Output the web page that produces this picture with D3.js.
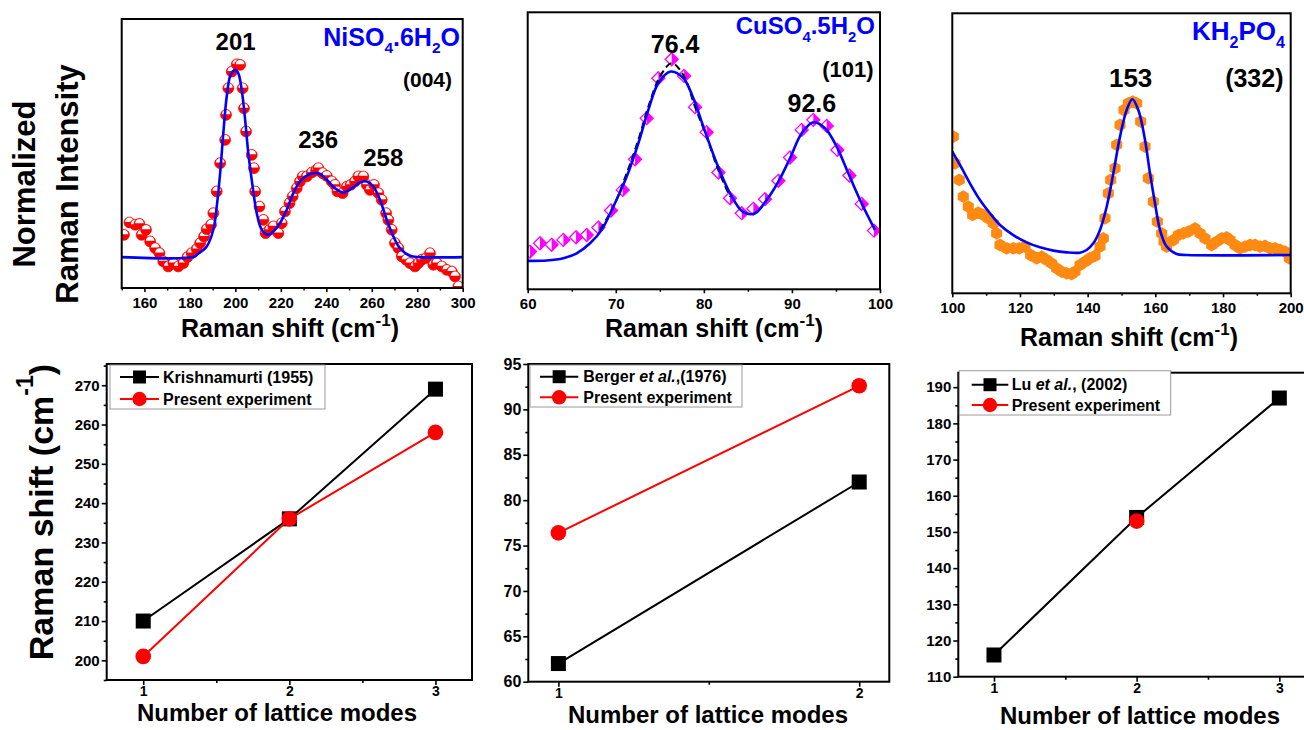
<!DOCTYPE html>
<html>
<head>
<meta charset="utf-8">
<script src="https://cdn.jsdelivr.net/npm/d3@7"></script>
<style>
  body { margin: 0; background: #fff; }
  svg { display: block; font-family: "Liberation Sans", Arial, sans-serif; font-weight: bold; }
</style>
</head>
<body>
<svg id="fig" width="1304" height="730"></svg>
<script>
// ---------------- Spectra: [Raman shift (cm-1), normalized intensity] ----------------
const niso4Points = [
  [151.0,0.119],[153.4,0.185],[155.9,0.173],[157.8,0.178],[158.8,0.119],[160.7,0.146],[162.5,0.084],
  [164.7,0.048],[166.6,0.021],[168.3,-0.023],[170.5,-0.050],[172.7,-0.032],[174.9,-0.050],[177.1,-0.032],
  [178.9,0.0],[180.8,0.021],[183.0,0.043],[184.5,0.075],[186.2,0.110],[187.4,0.149],[189.3,0.173],
  [190.3,0.235],[191.8,0.351],[193.3,0.502],[195.5,0.626],[195.9,0.760],[196.9,0.902],[198.4,0.991],
  [200.6,1.030],[202.1,1.027],[203.2,0.902],[203.8,0.795],[204.7,0.671],[207.2,0.546],[208.2,0.475],
  [208.7,0.351],[210.6,0.270],[212.3,0.199],[213.3,0.128],[215.0,0.146],[216.7,0.164],[218.9,0.128],
  [220.4,0.181],[221.8,0.244],[223.8,0.288],[225.2,0.324],[227.0,0.368],[228.4,0.404],[229.6,0.431],
  [231.4,0.431],[233.6,0.452],[235.5,0.463],[236.5,0.475],[238.4,0.448],[240.2,0.434],[242.4,0.404],
  [243.8,0.386],[244.9,0.351],[247.2,0.342],[249.0,0.377],[250.7,0.386],[252.6,0.404],[254.1,0.431],
  [256.3,0.431],[257.8,0.386],[259.2,0.359],[261.0,0.386],[262.9,0.342],[264.4,0.306],[266.3,0.235],
  [267.3,0.199],[268.8,0.146],[270.2,0.075],[271.7,0.048],[273.2,0.004],[275.1,-0.014],[276.8,-0.032],
  [279.0,-0.050],[280.5,-0.032],[282.0,-0.014],[283.9,-0.005],[285.6,0.021],[287.1,-0.041],[288.6,-0.032],
  [290.8,-0.050],[293.0,-0.068],[295.2,-0.077],[296.6,-0.103],[298.1,-0.157]
];
const niso4Fit = [
  [150,0],[181.5,0],[183.0,0.012],[187.4,0.057],[190.3,0.146],[191.8,0.270],[193.3,0.448],[194.7,0.662],
  [196.2,0.858],[197.9,0.973],[199.9,1.0],[201.3,0.982],[202.8,0.893],[204.3,0.733],[205.7,0.555],
  [207.6,0.377],[209.4,0.235],[211.6,0.146],[214.5,0.119],[216.7,0.137],[219.6,0.181],[222.6,0.253],
  [225.5,0.342],[228.4,0.404],[232.1,0.440],[236.5,0.448],[240.2,0.413],[243.8,0.368],[247.5,0.345],
  [251.2,0.368],[254.8,0.399],[257.8,0.404],[260.7,0.377],[263.6,0.306],[266.6,0.199],[269.5,0.110],
  [272.4,0.048],[276.8,0.007],[281.2,0],[300,0]
];

const cuso4Points = [
  [60.26,0.049],[61.40,0.093],[62.72,0.085],[64.05,0.111],[65.49,0.125],[66.70,0.137],[68.02,0.176],
  [69.46,0.266],[70.79,0.375],[72.19,0.537],[73.51,0.754],[74.83,0.965],[76.35,1.065],[77.75,0.977],
  [79.00,0.812],[80.32,0.680],[81.65,0.467],[82.97,0.331],[84.30,0.252],[85.62,0.275],[86.94,0.326],
  [88.46,0.423],[89.78,0.546],[91.11,0.692],[92.43,0.745],[93.95,0.713],[95.16,0.586],[96.52,0.451],
  [97.92,0.301],[99.32,0.160]
];
const cuso4Fit = [
  [60.0,0],[62.16,0.002],[64.05,0.014],[65.56,0.040],[67.08,0.093],[68.40,0.164],[69.73,0.287],
  [71.24,0.445],[72.56,0.621],[73.70,0.798],[74.83,0.938],[76.23,1.0],[77.67,0.965],[78.81,0.859],
  [79.94,0.710],[81.46,0.516],[82.97,0.357],[84.48,0.257],[85.81,0.252],[87.13,0.322],[88.46,0.419],
  [89.78,0.542],[91.11,0.674],[92.43,0.732],[93.76,0.701],[95.08,0.604],[96.40,0.463],[97.73,0.322],
  [99.43,0.164]
];
const cuso4Envelope = [
  [68.21,0.164],[69.73,0.287],[71.24,0.463],[72.56,0.639],[73.70,0.815],[75.02,0.974],[76.35,1.044],
  [77.67,0.982],[79.00,0.813],[80.32,0.655],[81.65,0.479],[82.97,0.338]
];

const kh2po4Points = [
  [100.30,0.760],[100.79,0.589],[102.07,0.482],[103.25,0.375],[104.73,0.310],[106.01,0.257],[107.68,0.272],
  [109.16,0.257],[110.64,0.236],[112.12,0.203],[113.10,0.139],[114.09,0.064],[116.06,0.043],[118.03,0.043],
  [119.80,0.043],[121.48,0.054],[123.15,0.0],[124.93,-0.021],[126.40,-0.011],[127.88,-0.032],[129.36,-0.054],
  [130.84,-0.086],[132.32,-0.107],[133.79,-0.118],[135.27,-0.122],[136.26,-0.107],[137.73,-0.064],
  [139.21,-0.043],[140.69,-0.021],[142.17,-0.006],[143.65,0.054],[144.63,0.107],[145.12,0.236],
  [146.11,0.396],[146.80,0.482],[148.08,0.557],[148.57,0.707],[149.56,0.835],[150.74,0.931],[152.02,0.974],
  [153.30,0.985],[154.48,0.974],[155.67,0.857],[156.95,0.696],[157.93,0.493],[159.41,0.343],[160.59,0.214],
  [161.87,0.139],[162.56,0.086],[163.35,0.054],[165.32,0.096],[166.80,0.128],[168.28,0.139],[169.75,0.150],
  [171.72,0.171],[173.20,0.139],[174.68,0.107],[176.65,0.064],[178.13,0.086],[179.61,0.107],[181.08,0.113],
  [182.07,0.096],[183.55,0.064],[185.02,0.043],[186.50,0.054],[187.98,0.064],[189.46,0.064],[190.94,0.054],
  [192.41,0.058],[193.89,0.043],[195.37,0.043],[196.85,0.032],[198.33,0.021],[199.61,-0.021]
];
const kh2po4Fit = [
  [100,0.664],[102.27,0.578],[105.22,0.460],[108.18,0.353],[111.13,0.268],[114.09,0.193],[118.03,0.128],
  [121.97,0.081],[125.91,0.049],[129.85,0.028],[133.79,0.017],[137.73,0.015],[139.70,0.032],[141.67,0.075],
  [143.65,0.161],[145.62,0.310],[147.59,0.525],[149.56,0.760],[151.53,0.931],[153.20,1.0],[154.98,0.931],
  [156.95,0.739],[158.42,0.525],[159.90,0.332],[161.38,0.161],[163.35,0.054],[166.31,0.006],[169.26,0],[200,0]
];

const niso4Peaks = [201, 236, 258];
const cuso4Peaks = [76.4, 92.6];
const kh2po4Peaks = [153];

const niso4Ticks = [160, 180, 200, 220, 240, 260, 280, 300];
const niso4Minor = [150, 170, 190, 210, 230, 250, 270, 290];
const cuso4Ticks = [60, 70, 80, 90, 100];
const cuso4Minor = [65, 75, 85, 95];
const kh2po4Ticks = [100, 120, 140, 160, 180, 200];
const kh2po4Minor = [110, 130, 150, 170, 190];

// ---------------- Lattice modes: literature vs present experiment ----------------
const modesThree = [1, 2, 3];
const modesTwo = [1, 2];
const krishnamurti1955 = [210, 236, 269];
const niso4Present = [201, 236, 258];
const berger1976 = [62, 82];
const cuso4Present = [76.4, 92.6];
const lu2002 = [116, 154, 187];
const kh2po4PresentModes = [2];
const kh2po4Present = [153];

const ni2Ticks = [200, 210, 220, 230, 240, 250, 260, 270];
const ni2Minor = [195, 205, 215, 225, 235, 245, 255, 265, 275];
const cu2Ticks = [60, 65, 70, 75, 80, 85, 90, 95];
const cu2Minor = [62.5, 67.5, 72.5, 77.5, 82.5, 87.5, 92.5];
const kh2Ticks = [110, 120, 130, 140, 150, 160, 170, 180, 190];
const kh2Minor = [115, 125, 135, 145, 155, 165, 175, 185];

// ---------------- drawing helpers ----------------
const svg = d3.select("#fig");
const BLUE = "#0000ff", RED = "#ff0000", MAGENTA = "#ff00ff", ORANGE = "#ff8a12";

function rich(sel, parts, size, supShift = 0.6) {
  let shift = 0;
  parts.forEach(([s, kind]) => {
    const t = sel.append("tspan").text(s);
    let target = 0;
    if (kind === "sub") { target = 0.3 * size; t.attr("font-size", 0.62 * size); }
    if (kind === "sup") { target = -supShift * size; t.attr("font-size", 0.68 * size); }
    if (kind === "i") t.attr("font-style", "italic");
    if (target - shift) t.attr("dy", target - shift);
    shift = target;
  });
}

const markers = {
  halfCircle(g) {
    g.append("circle").attr("r", 5.4).attr("fill", RED).attr("stroke", RED).attr("stroke-width", 0.8);
    g.append("path").attr("d", "M-4.3,-0.6 A4.3,4.3 0 0 1 4.3,-0.6 Z").attr("fill", "#fff");
  },
  halfDiamond(g) {
    g.append("path").attr("d", "M0,-6.5 L6.5,0 L0,6.5 L-6.5,0 Z").attr("fill", "none")
      .attr("stroke", MAGENTA).attr("stroke-width", 1.3);
    g.append("path").attr("d", "M0,-6.5 L6.5,0 L0,6.5 Z").attr("fill", MAGENTA);
  },
  hexagon(g) {
    const r = 6.4;
    const pts = d3.range(6).map(i => {
      const a = Math.PI / 6 + i * Math.PI / 3;
      return [r * Math.cos(a), r * Math.sin(a)];
    });
    g.append("path").attr("d", "M" + pts.join("L") + "Z").attr("fill", ORANGE);
  }
};

function spectrumPanel(p) {
  const x = d3.scaleLinear().domain(p.xDomain).range([p.left, p.right]);
  const y = d3.scaleLinear().domain(p.yDomain).range([p.bottom, p.top]);
  const clipId = "clip-" + p.key;
  svg.append("clipPath").attr("id", clipId).append("rect")
    .attr("x", p.left).attr("y", p.top).attr("width", p.right - p.left).attr("height", p.bottom - p.top);

  const plot = svg.append("g").attr("clip-path", `url(#${clipId})`);
  plot.selectAll("g.pt").data(p.points).join("g").attr("class", "pt")
    .attr("transform", d => `translate(${x(d[0])},${y(d[1])})`)
    .each(function () { p.marker(d3.select(this)); });

  const line = d3.line().x(d => x(d[0])).y(d => y(d[1])).curve(d3.curveCatmullRom.alpha(0.5));
  if (p.envelope) {
    plot.append("path").datum(p.envelope).attr("d", line).attr("fill", "none")
      .attr("stroke", "#000").attr("stroke-width", 2).attr("stroke-dasharray", "7,4");
  }
  plot.append("path").datum(p.fit).attr("d", line).attr("fill", "none")
    .attr("stroke", BLUE).attr("stroke-width", 2.6);

  // frame
  svg.append("rect").attr("x", p.left).attr("y", p.top)
    .attr("width", p.right - p.left).attr("height", p.bottom - p.top)
    .attr("fill", "none").attr("stroke", "#000").attr("stroke-width", 2);

  // bottom axis
  const ax = svg.append("g").attr("transform", `translate(0,${p.bottom})`)
    .call(d3.axisBottom(x).tickValues(p.ticks).tickSize(4).tickSizeOuter(0).tickFormat(d3.format("d")));
  ax.select(".domain").remove();
  ax.selectAll("line").attr("stroke-width", 1.6);
  ax.selectAll("text").attr("y", 9).attr("font-size", 15).attr("font-family", "Liberation Sans, Arial")
    .attr("font-weight", "bold").attr("fill", "#000");
  const mn = svg.append("g").attr("transform", `translate(0,${p.bottom})`)
    .call(d3.axisBottom(x).tickValues(p.minor).tickSize(2.5).tickSizeOuter(0).tickFormat(""));
  mn.select(".domain").remove();
  mn.selectAll("line").attr("stroke-width", 1.4);

  // axis title
  const t = svg.append("text").attr("x", p.titleX).attr("y", p.titleY)
    .attr("text-anchor", "middle").attr("font-size", 25);
  rich(t, [["Raman shift (cm", "n"], ["-1", "sup"], [")", "n"]], 25, 0.44);

  // peak positions
  p.peaks.forEach((v, i) => {
    svg.append("text").attr("x", x(v) + p.peakDx[i]).attr("y", p.peakY[i])
      .attr("text-anchor", "middle").attr("font-size", p.peakSize).text(d3.format("")(v));
  });

  // compound and reflection
  const c = svg.append("text").attr("x", p.nameX).attr("y", p.nameY).attr("text-anchor", "end")
    .attr("font-size", p.nameSize).attr("fill", BLUE);
  rich(c, p.name, p.nameSize);
  svg.append("text").attr("x", p.hklX).attr("y", p.hklY).attr("text-anchor", "end")
    .attr("font-size", p.hklSize).text(p.hkl);
}

function latticePanel(p) {
  const x = d3.scaleLinear().domain(p.xDomain).range([p.left, p.right]);
  const y = d3.scaleLinear().domain(p.yDomain).range([p.bottom, p.top]);

  svg.append("rect").attr("x", p.left).attr("y", p.top)
    .attr("width", p.right - p.left).attr("height", p.bottom - p.top)
    .attr("fill", "none").attr("stroke", "#000").attr("stroke-width", 2);

  const styleAxis = (g, size) => {
    g.select(".domain").remove();
    g.selectAll("line").attr("stroke-width", 1.6);
    g.selectAll("text").attr("font-size", size).attr("font-family", "Liberation Sans, Arial")
      .attr("font-weight", "bold").attr("fill", "#000");
  };
  const ya = svg.append("g").attr("transform", `translate(${p.left},0)`)
    .call(d3.axisLeft(y).tickValues(p.yTicks).tickSize(5).tickSizeOuter(0).tickFormat(d3.format("d")));
  styleAxis(ya, p.yLabelSize);
  ya.selectAll("text").attr("x", -7);
  const ym = svg.append("g").attr("transform", `translate(${p.left},0)`)
    .call(d3.axisLeft(y).tickValues(p.yMinor).tickSize(3).tickSizeOuter(0).tickFormat(""));
  styleAxis(ym, 0);

  const xa = svg.append("g").attr("transform", `translate(0,${p.bottom})`)
    .call(d3.axisBottom(x).tickValues(p.xTicks).tickSize(5).tickSizeOuter(0).tickFormat(d3.format("d")));
  styleAxis(xa, 14);
  xa.selectAll("text").attr("y", 6);
  const xm = svg.append("g").attr("transform", `translate(0,${p.bottom})`)
    .call(d3.axisBottom(x).tickValues(p.xMinor).tickSize(3).tickSizeOuter(0).tickFormat(""));
  styleAxis(xm, 0);

  const line = d3.line().x(d => x(d[0])).y(d => y(d[1]));
  const drawSeries = s => {
    const pts = s.modes.map((m, i) => [m, s.values[i]]);
    svg.append("path").datum(pts).attr("d", line).attr("fill", "none")
      .attr("stroke", s.color).attr("stroke-width", 2);
    pts.forEach(d => {
      if (s.shape === "square") {
        svg.append("rect").attr("x", x(d[0]) - 7.5).attr("y", y(d[1]) - 7.5)
          .attr("width", 15).attr("height", 15).attr("fill", "#000");
      } else {
        svg.append("circle").attr("cx", x(d[0])).attr("cy", y(d[1])).attr("r", 7.8).attr("fill", RED);
      }
    });
  };
  p.series.forEach(drawSeries);

  // legend
  const L = p.legend;
  svg.append("rect").attr("x", L.x).attr("y", L.y).attr("width", L.w).attr("height", L.h)
    .attr("fill", "#fff").attr("stroke", "#9a9a9a").attr("stroke-width", 1);
  p.series.forEach((s, i) => {
    const cy = L.rows[i];
    svg.append("line").attr("x1", L.lx0).attr("x2", L.lx1).attr("y1", cy).attr("y2", cy)
      .attr("stroke", s.color).attr("stroke-width", 2);
    const mx = (L.lx0 + L.lx1) / 2;
    if (s.shape === "square") {
      svg.append("rect").attr("x", mx - 6.5).attr("y", cy - 6.5).attr("width", 13).attr("height", 13).attr("fill", "#000");
    } else {
      svg.append("circle").attr("cx", mx).attr("cy", cy).attr("r", 7.2).attr("fill", RED);
    }
    const t = svg.append("text").attr("x", L.tx).attr("y", cy).attr("dy", "0.36em").attr("font-size", 16);
    rich(t, s.label, 16);
  });

  svg.append("text").attr("x", p.titleX).attr("y", p.titleY).attr("text-anchor", "middle")
    .attr("font-size", 24).text("Number of lattice modes");
}

// ---------------- top row: spectra ----------------
spectrumPanel({
  key: "ni", left: 121.7, right: 462.7, top: 19, bottom: 288,
  xDomain: [150, 300], yDomain: [-0.165, 1.272],
  points: niso4Points, fit: niso4Fit, marker: markers.halfCircle,
  ticks: niso4Ticks, minor: niso4Minor, titleX: 290, titleY: 337,
  peaks: niso4Peaks, peakDx: [-2, 1, 16], peakY: [49.5, 147.7, 166], peakSize: 24,
  name: [["NiSO", "n"], ["4", "sub"], [".6H", "n"], ["2", "sub"], ["O", "n"]],
  nameX: 460, nameY: 45.7, nameSize: 25, hkl: "(004)", hklX: 452, hklY: 86.5, hklSize: 21
});
spectrumPanel({
  key: "cu", left: 527.7, right: 880, top: 12.3, bottom: 289.3,
  xDomain: [60, 100], yDomain: [-0.150, 1.313],
  points: cuso4Points, fit: cuso4Fit, envelope: cuso4Envelope, marker: markers.halfDiamond,
  ticks: cuso4Ticks, minor: cuso4Minor, titleX: 714, titleY: 337,
  peaks: cuso4Peaks, peakDx: [3, -3], peakY: [52.7, 111.5], peakSize: 25,
  name: [["CuSO", "n"], ["4", "sub"], [".5H", "n"], ["2", "sub"], ["O", "n"]],
  nameX: 875, nameY: 34.3, nameSize: 24, hkl: "(101)", hklX: 873.5, hklY: 76.7, hklSize: 22
});
spectrumPanel({
  key: "kh", left: 952.3, right: 1290.7, top: 13.3, bottom: 293.3,
  xDomain: [100, 200], yDomain: [-0.246, 1.552],
  points: kh2po4Points, fit: kh2po4Fit, marker: markers.hexagon,
  ticks: kh2po4Ticks, minor: kh2po4Minor, titleX: 1129, titleY: 346,
  peaks: kh2po4Peaks, peakDx: [-1], peakY: [86.5], peakSize: 26,
  name: [["KH", "n"], ["2", "sub"], ["PO", "n"], ["4", "sub"]],
  nameX: 1285, nameY: 40, nameSize: 26, hkl: "(332)", hklX: 1283.5, hklY: 87.3, hklSize: 25
});

// ---------------- bottom row: lattice modes ----------------
latticePanel({
  left: 106.7, right: 472, top: 364, bottom: 680,
  xDomain: [0.75, 3.25], yDomain: [195, 275.4],
  xTicks: modesThree, xMinor: [1.5, 2.5], yTicks: ni2Ticks, yMinor: ni2Minor, yLabelSize: 15,
  series: [
    { modes: modesThree, values: krishnamurti1955, color: "#000", shape: "square", label: [["Krishnamurti (1955)", "n"]] },
    { modes: modesThree, values: niso4Present, color: RED, shape: "circle", label: [["Present experiment", "n"]] }
  ],
  legend: { x: 110, y: 365, w: 215, h: 44, rows: [377, 399], lx0: 120, lx1: 159, tx: 163 },
  titleX: 277, titleY: 721
});
latticePanel({
  left: 528.3, right: 889.3, top: 364, bottom: 681.7,
  xDomain: [0.9, 2.1], yDomain: [60, 95],
  xTicks: modesTwo, xMinor: [1.5], yTicks: cu2Ticks, yMinor: cu2Minor, yLabelSize: 16,
  series: [
    { modes: modesTwo, values: berger1976, color: "#000", shape: "square", label: [["Berger ", "n"], ["et al.", "i"], [",(1976)", "n"]] },
    { modes: modesTwo, values: cuso4Present, color: RED, shape: "circle", label: [["Present experiment", "n"]] }
  ],
  legend: { x: 530, y: 365, w: 212, h: 42, rows: [376.7, 397.3], lx0: 540, lx1: 578.3, tx: 583.3 },
  titleX: 708, titleY: 723
});
latticePanel({
  left: 958.3, right: 1315, top: 372.7, bottom: 676.7,
  xDomain: [0.75, 3.25], yDomain: [110, 194],
  xTicks: modesThree, xMinor: [1.5, 2.5], yTicks: kh2Ticks, yMinor: kh2Minor, yLabelSize: 15,
  series: [
    { modes: modesThree, values: lu2002, color: "#000", shape: "square", label: [["Lu ", "n"], ["et al.", "i"], [", (2002)", "n"]] },
    { modes: kh2po4PresentModes, values: kh2po4Present, color: RED, shape: "circle", label: [["Present experiment", "n"]] }
  ],
  legend: { x: 959.3, y: 370.7, w: 211.4, h: 44.3, rows: [384.7, 405], lx0: 971.7, lx1: 1008.3, tx: 1011.7 },
  titleX: 1140, titleY: 723.5
});

// ---------------- shared axis titles ----------------
svg.append("text").attr("transform", "translate(35,184) rotate(-90)").attr("text-anchor", "middle")
  .attr("font-size", 31).text("Normalized");
svg.append("text").attr("transform", "translate(78,184) rotate(-90)").attr("text-anchor", "middle")
  .attr("font-size", 31).text("Raman Intensity");
const yt = svg.append("text").attr("transform", "translate(53,512) rotate(-90)").attr("text-anchor", "middle")
  .attr("font-size", 34);
rich(yt, [["Raman shift (cm", "n"], ["-1", "sup"], [")", "n"]], 34);
</script>
</body>
</html>
